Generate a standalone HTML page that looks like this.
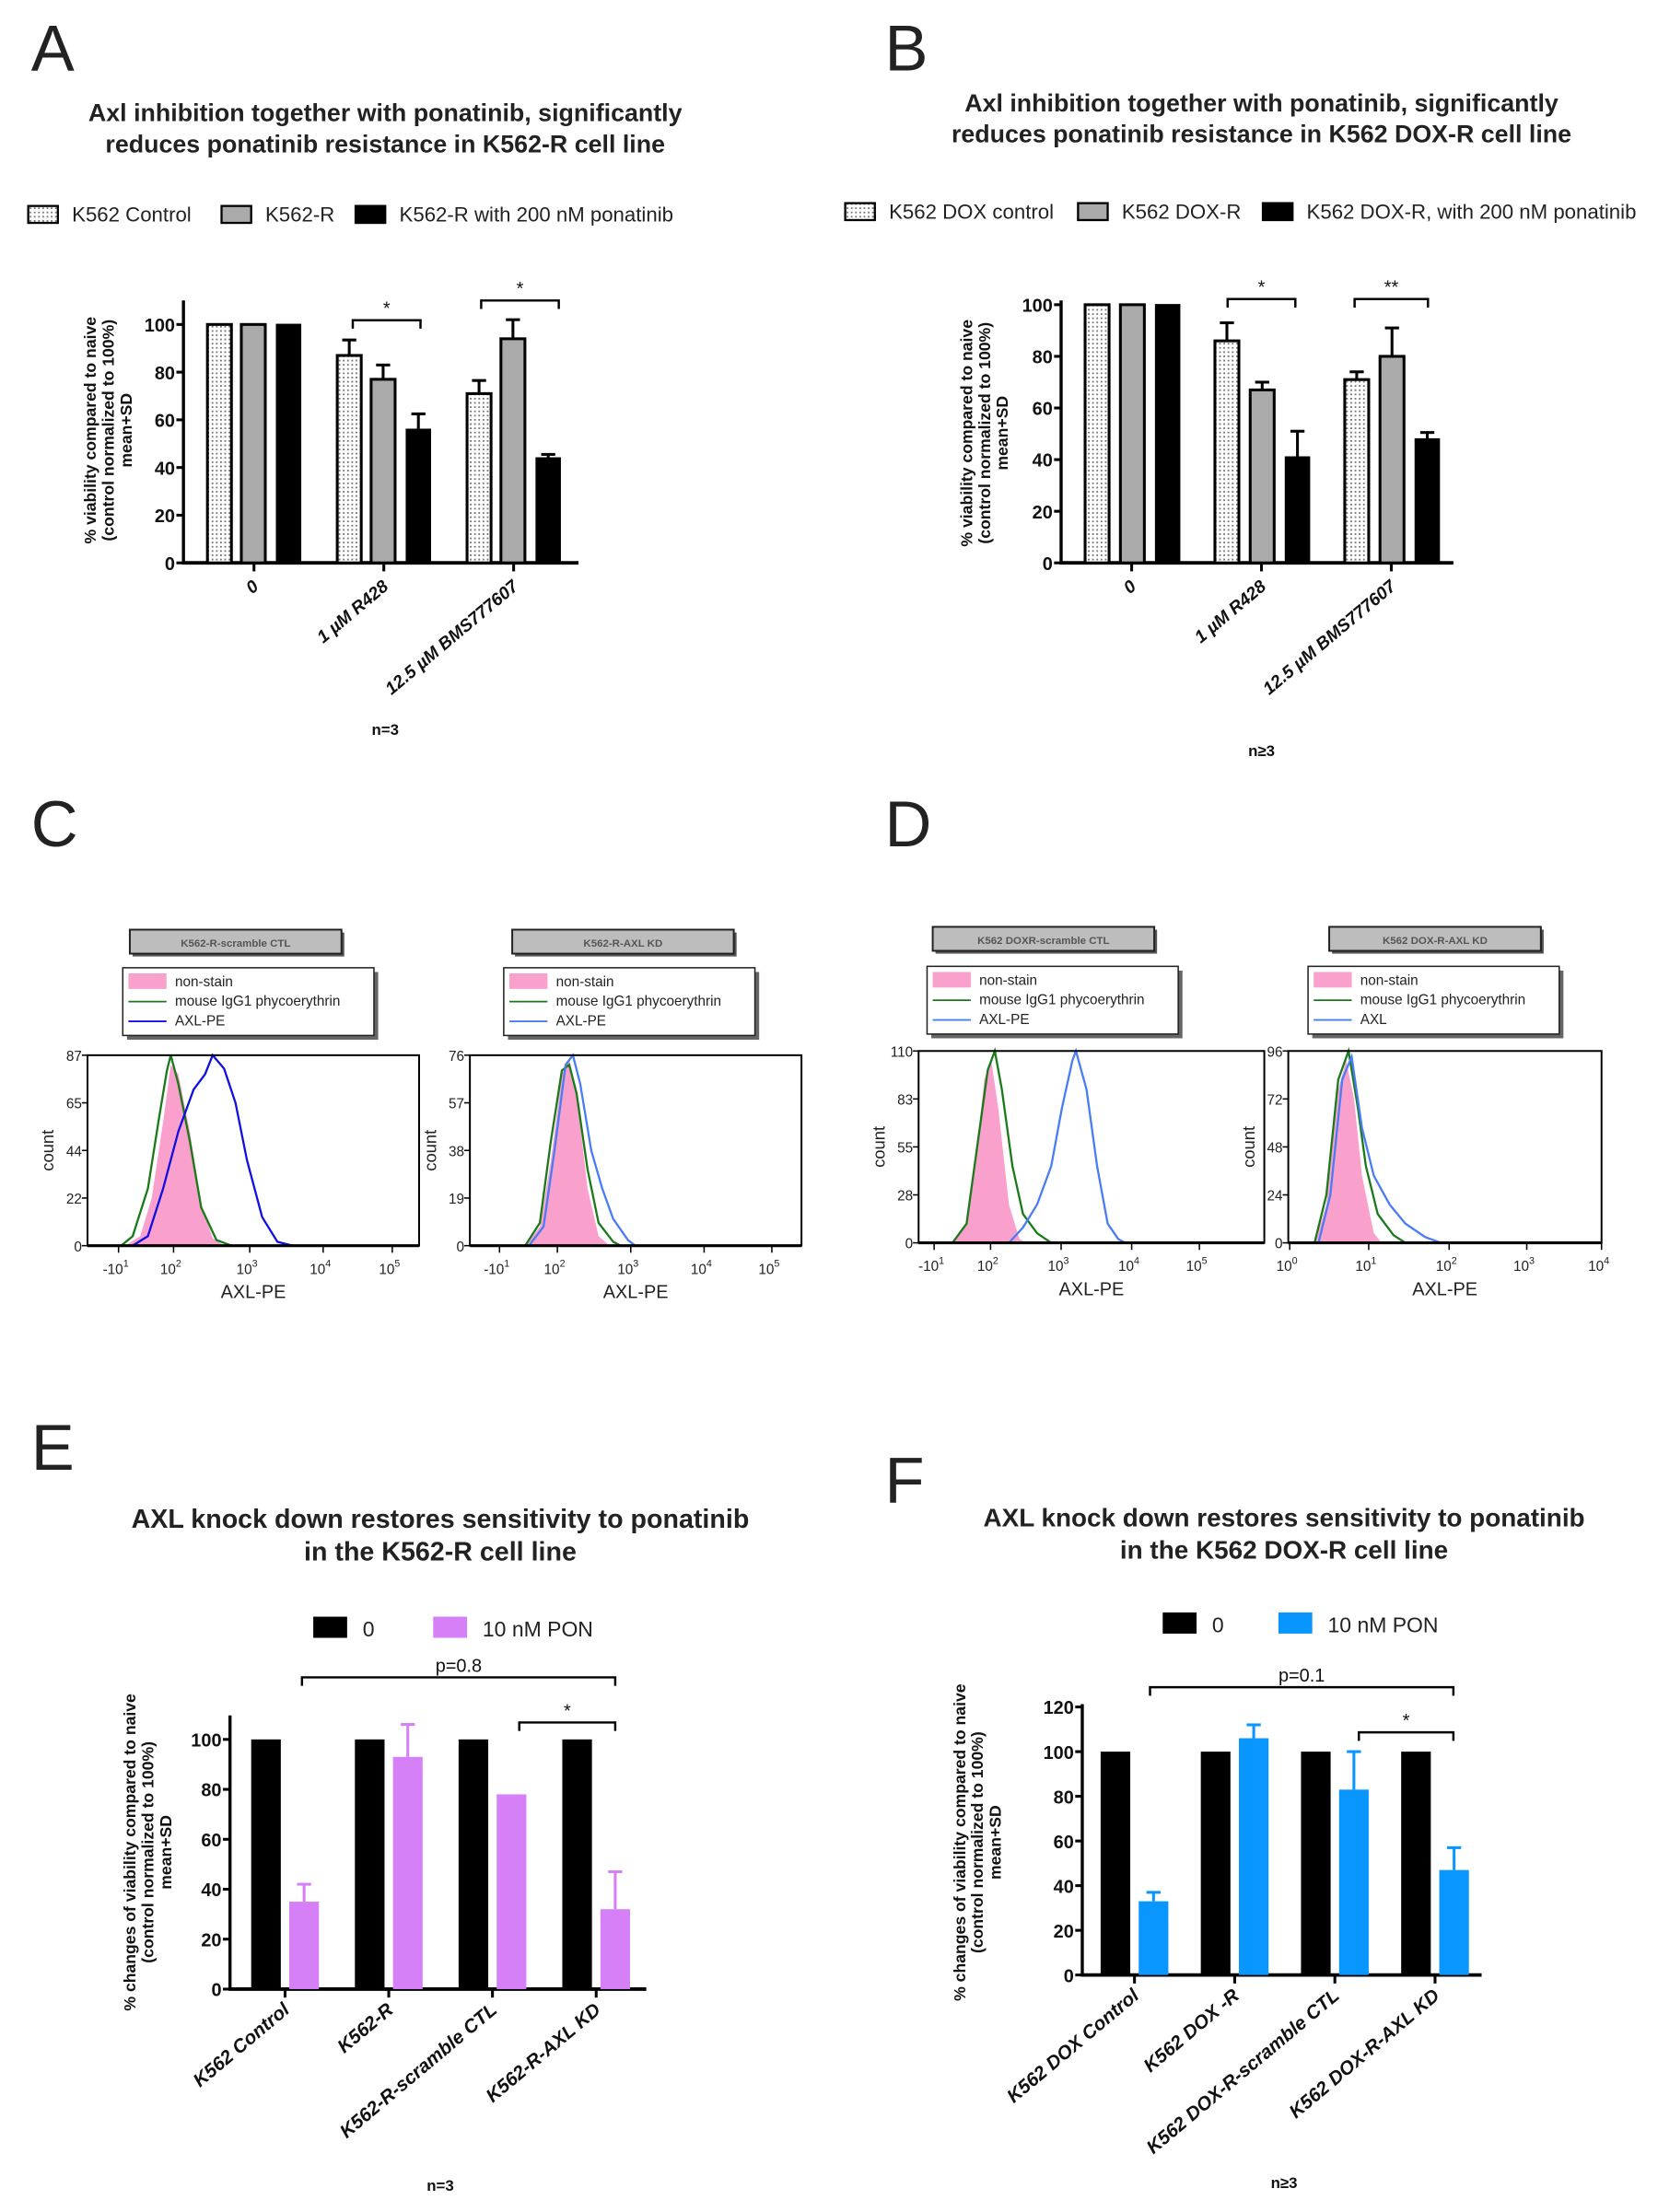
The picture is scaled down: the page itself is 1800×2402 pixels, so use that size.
<!DOCTYPE html>
<html><head><meta charset="utf-8">
<style>
html,body{margin:0;padding:0;background:#fff;}
svg{display:block;font-family:"Liberation Sans",sans-serif;}
</style></head>
<body>
<svg id="fig" width="1800" height="2402" viewBox="0 0 1175 1568" xmlns="http://www.w3.org/2000/svg">
<defs>
<pattern id="dots" width="3" height="3" patternUnits="userSpaceOnUse">
<rect width="3" height="3" fill="#fff"/><rect x="0" y="0" width="1.2" height="1.2" fill="#777"/>
</pattern>
</defs>
</svg>
<script>
// ---------- DATA ----------
const aGroups = ["0","1 µM R428","12.5 µM BMS777607"];
const aControl = [100,87,71];
const aControlErr = [0,6.5,5.5];
const aResist = [100,77,94];
const aResistErr = [0,6,8];
const aPon = [100,56,44];
const aPonErr = [0,6.5,1.5];
const aTicks = [0,20,40,60,80,100];

const bGroups = ["0","1 µM R428","12.5 µM BMS777607"];
const bControl = [100,86,71];
const bControlErr = [0,7,3];
const bResist = [100,67,80];
const bResistErr = [0,3,11];
const bPon = [100,41,48];
const bPonErr = [0,10,2.5];
const bTicks = [0,20,40,60,80,100];

const eCats = ["K562 Control","K562-R","K562-R-scramble CTL","K562-R-AXL KD"];
const eZero = [100,100,100,100];
const ePon = [35,93,78,32];
const ePonErr = [7,13,0,15];
const eTicks = [0,20,40,60,80,100];

const fCats = ["K562 DOX Control","K562 DOX -R","K562 DOX-R-scramble CTL","K562 DOX-R-AXL KD"];
const fZero = [100,100,100,100];
const fPon = [33,106,83,47];
const fPonErr = [4,6,17,10];
const fTicks = [0,20,40,60,80,100,120];

// flow histograms: [decade, fraction of max]
const c1Pink = [[1.4,0],[1.6,0.05],[1.75,0.25],[1.9,0.65],[2.0,0.95],[2.1,0.9],[2.25,0.6],[2.4,0.22],[2.55,0.04],[2.7,0]];
const c1Green = [[1.35,0],[1.5,0.05],[1.7,0.3],[1.85,0.68],[1.95,0.92],[2.0,1.0],[2.1,0.85],[2.25,0.55],[2.4,0.2],[2.6,0.03],[2.8,0]];
const c1Blue = [[1.5,0],[1.7,0.05],[1.9,0.3],[2.1,0.6],[2.3,0.82],[2.45,0.9],[2.55,1.0],[2.7,0.93],[2.85,0.75],[3.0,0.45],[3.2,0.15],[3.4,0.02],[3.6,0]];
const c2Pink = [[1.6,0],[1.8,0.1],[1.95,0.45],[2.1,0.9],[2.2,0.98],[2.3,0.8],[2.45,0.3],[2.6,0.05],[2.75,0]];
const c2Green = [[1.6,0],[1.8,0.12],[1.95,0.55],[2.1,0.92],[2.2,0.95],[2.3,0.8],[2.45,0.4],[2.6,0.12],[2.8,0.02],[2.9,0]];
const c2Blue = [[1.65,0],[1.85,0.1],[2.0,0.5],[2.15,0.95],[2.25,1.0],[2.35,0.85],[2.5,0.5],[2.65,0.3],[2.8,0.14],[3.0,0.03],[3.1,0]];
const d1Pink = [[1.5,0],[1.7,0.1],[1.85,0.5],[1.95,0.85],[2.05,0.95],[2.15,0.7],[2.3,0.2],[2.45,0.02],[2.55,0]];
const d1Green = [[1.5,0],[1.7,0.1],[1.85,0.5],[2.0,0.9],[2.1,1.0],[2.2,0.8],[2.35,0.4],[2.5,0.15],[2.7,0.05],[2.9,0]];
const d1Blue = [[2.3,0],[2.5,0.08],[2.7,0.2],[2.9,0.4],[3.05,0.7],[3.2,0.95],[3.25,1.0],[3.4,0.8],[3.55,0.4],[3.7,0.1],[3.85,0.02],[3.95,0]];
const d2Pink = [[0.35,0],[0.5,0.2],[0.65,0.8],[0.75,0.95],[0.85,0.75],[0.95,0.35],[1.1,0.05],[1.2,0]];
const d2Green = [[0.35,0],[0.5,0.25],[0.65,0.85],[0.78,1.0],[0.9,0.7],[1.0,0.4],[1.15,0.15],[1.35,0.04],[1.5,0]];
const d2Blue = [[0.4,0],[0.55,0.25],[0.7,0.85],[0.82,0.97],[0.95,0.6],[1.1,0.35],[1.3,0.2],[1.5,0.1],[1.75,0.03],[1.95,0]];

// ---------- HELPERS ----------
const NS="http://www.w3.org/2000/svg";
const svg=document.getElementById('fig');
function mk(tag, attrs, parent){const e=document.createElementNS(NS,tag);for(const k in attrs)e.setAttribute(k,attrs[k]);(parent||svg).appendChild(e);return e;}
function txt(s, x, y, attrs, parent){const e=mk('text',Object.assign({x:x,y:y},attrs||{}),parent);e.textContent=s;return e;}
function grp(name){const g=mk('g',{});return g;}

// panel letters
[["A",22,50],["B",627,50],["C",22,600],["D",627,600],["E",22,1042],["F",627,1065]].forEach(p=>{
  const t=txt(p[0],p[1],p[2],{'font-size':46,'fill':'#222'});
  
  
});

// titles
function title(lines,cx,y,name,fs){const g=grp(name);lines.forEach((l,i)=>txt(l,cx,y+i*(fs+4.5),{'font-size':fs,'font-weight':'bold','text-anchor':'middle','fill':'#222'},g));}
title(["Axl inhibition together with ponatinib, significantly","reduces ponatinib resistance in K562-R cell line"],273,86,'title-a',17.5);
title(["Axl inhibition together with ponatinib, significantly","reduces ponatinib resistance in K562 DOX-R cell line"],894,79,'title-b',17.5);
title(["AXL knock down restores sensitivity to ponatinib","in the K562-R cell line"],312,1083,'title-e',18.7);
title(["AXL knock down restores sensitivity to ponatinib","in the K562 DOX-R cell line"],910,1082,'title-f',18.2);

// legends A/B
function legendItem(parent,x,y,fill,label,name){
  const g=grp(name);parent.appendChild(g);
  mk('rect',{x:x,y:y-11,width:21,height:12,fill:fill,stroke:'#000','stroke-width':1.5},g);
  txt(label,x+31,y,{'font-size':14.5,'fill':'#222'},g);
}
const la=grp('legend-a');
legendItem(la,20,157,'url(#dots)','K562 Control','legend-entry-k562-control');
legendItem(la,157,157,'#aaa','K562-R','legend-entry-k562-r');
legendItem(la,252,157,'#000','K562-R with 200 nM ponatinib','legend-entry-k562-r-ponatinib');
const lb=grp('legend-b');
legendItem(lb,599,155,'url(#dots)','K562 DOX control','legend-entry-dox-control');
legendItem(lb,764,155,'#aaa','K562 DOX-R','legend-entry-dox-r');
legendItem(lb,895,155,'#000','K562 DOX-R, with 200 nM ponatinib','legend-entry-dox-r-ponatinib');

// ---------- BAR CHART ----------
function barChart(cfg){
  const g=grp(cfg.name);
  const y=v=>cfg.y0-(v-0)*(cfg.y0-cfg.yTop)/cfg.vTop;
  const ax=mk('line',{x1:cfg.x0,y1:cfg.y0+1,x2:cfg.x0,y2:cfg.axTop,stroke:'#000','stroke-width':2.2},g);
  
  cfg.ticks.forEach(t=>{
    mk('line',{x1:cfg.x0-5,y1:y(t),x2:cfg.x0,y2:y(t),stroke:'#000','stroke-width':2},g);
    const tl=txt(String(t),cfg.x0-6,y(t)+5,{'font-size':13,'font-weight':'bold','text-anchor':'end','fill':'#111'},g);
    
  });
  const xa=mk('line',{x1:cfg.x0-1,y1:cfg.y0,x2:cfg.xEnd,y2:cfg.y0,stroke:'#000','stroke-width':2.5},g);
  
  cfg.cats.forEach((c,i)=>{
    const cx=cfg.gx0+i*cfg.gStep;
    mk('line',{x1:cfg.tickX(cx),y1:cfg.y0,x2:cfg.tickX(cx),y2:cfg.y0+6,stroke:'#000','stroke-width':2},g);
    cfg.series.forEach((s,j)=>{
      const bx=cx+cfg.offsets[j];
      const v=s.vals[i];
      const r=mk('rect',{x:bx,y:y(v),width:cfg.bw,height:cfg.y0-y(v),fill:s.fill,stroke:s.stroke,'stroke-width':s.sw},g);
      
      if(s.err && s.err[i]>0){
        const ec=s.errColor||'#000';
        mk('line',{x1:bx+cfg.bw/2,y1:y(v),x2:bx+cfg.bw/2,y2:y(v+s.err[i]),stroke:ec,'stroke-width':2},g);
        mk('line',{x1:bx+cfg.bw/2-5,y1:y(v+s.err[i]),x2:bx+cfg.bw/2+5,y2:y(v+s.err[i]),stroke:ec,'stroke-width':2},g);
      }
    });
    const lx=cfg.tickX(cx)+4, ly=cfg.y0+cfg.labDy;
    const tl=txt(c,lx,ly,{'font-size':cfg.labSize,'font-weight':'bold','font-style':'italic','text-anchor':'end','fill':'#111',transform:`rotate(-40 ${lx} ${ly})`},g);
    
  });
  const yt=txt('',0,0,{'font-size':cfg.ytSize,'font-weight':'bold','text-anchor':'middle','fill':'#111',transform:`translate(${cfg.ytx} ${cfg.yty}) rotate(-90)`},g);
  cfg.ytLines.forEach((l,i)=>{const ts=mk('tspan',{x:0,dy:i===0?0:cfg.ytSize*1.1},yt);ts.textContent=l;});
  
  cfg.brackets.forEach(b=>{
    const bg=grp('significance-bracket');g.appendChild(bg);
    mk('path',{d:`M${b[0]} ${b[2]+6}V${b[2]}H${b[1]}V${b[2]+6}`,fill:'none',stroke:'#000','stroke-width':1.6},bg);
    txt(b[3],(b[0]+b[1])/2,b[2]-4,{'font-size':b[4]||13,'text-anchor':'middle','fill':'#111'},bg);
  });
  const n=txt(cfg.nText,cfg.nx,cfg.ny,{'font-size':11,'font-weight':'bold','text-anchor':'middle','fill':'#111'},g);
  
}

barChart({name:'chart-a',x0:130,y0:399,yTop:230,vTop:100,axTop:213,xEnd:410,ticks:aTicks,cats:aGroups,
  gx0:147,gStep:92,offsets:[0,24,49],bw:17,tickX:cx=>cx+33,labDy:18,labSize:12.5,
  series:[{key:'control',vals:aControl,err:aControlErr,fill:'url(#dots)',stroke:'#000',sw:2},
          {key:'resistant',vals:aResist,err:aResistErr,fill:'#aaa',stroke:'#000',sw:2},
          {key:'ponatinib',vals:aPon,err:aPonErr,fill:'#000',stroke:'#000',sw:1}],
  ytLines:['% viability compared to naive','(control normalized to 100%)','mean+SD'],ytSize:11.5,ytx:68,yty:305,
  brackets:[[250,298,227,'*'],[341,396,213,'*']],nText:'n=3',nx:273,ny:521});
barChart({name:'chart-b',x0:752,y0:399,yTop:216,vTop:100,axTop:213,xEnd:1030,ticks:bTicks,cats:bGroups,
  gx0:769,gStep:92,offsets:[0,25,50],bw:17,tickX:cx=>cx+33,labDy:18,labSize:12.5,
  series:[{key:'dox-control',vals:bControl,err:bControlErr,fill:'url(#dots)',stroke:'#000',sw:2},
          {key:'dox-resistant',vals:bResist,err:bResistErr,fill:'#aaa',stroke:'#000',sw:2},
          {key:'dox-ponatinib',vals:bPon,err:bPonErr,fill:'#000',stroke:'#000',sw:1}],
  ytLines:['% viability compared to naive','(control normalized to 100%)','mean+SD'],ytSize:11.5,ytx:689,yty:307,
  brackets:[[870,918,212,'*'],[960,1012,212,'**']],nText:'n≥3',nx:894,ny:536});
barChart({name:'chart-e',x0:163,y0:1410,yTop:1233,vTop:100,axTop:1216,xEnd:458,ticks:eTicks,cats:eCats,
  gx0:178,gStep:73.5,offsets:[0,27],bw:21,tickX:cx=>cx+24,labDy:16,labSize:13.5,
  series:[{key:'untreated',vals:eZero,err:null,fill:'#000',stroke:'#000',sw:0},
          {key:'pon',vals:ePon,err:ePonErr,fill:'#d680f8',stroke:'none',sw:0,errColor:'#d680f8'}],
  ytLines:['% changes of viability compared to naive','(control normalized to 100%)','mean+SD'],ytSize:11.5,ytx:96,yty:1313,
  brackets:[[214,436,1189,'p=0.8',13],[368,436,1221,'*']],nText:'n=3',nx:312,ny:1553});
barChart({name:'chart-f',x0:767,y0:1400,yTop:1210,vTop:120,axTop:1208,xEnd:1050,ticks:fTicks,cats:fCats,
  gx0:780,gStep:71,offsets:[0,27],bw:21,tickX:cx=>cx+24,labDy:16,labSize:13.5,
  series:[{key:'untreated',vals:fZero,err:null,fill:'#000',stroke:'#000',sw:0},
          {key:'pon',vals:fPon,err:fPonErr,fill:'#0a96ff',stroke:'none',sw:0,errColor:'#0a96ff'}],
  ytLines:['% changes of viability compared to naive','(control normalized to 100%)','mean+SD'],ytSize:11.5,ytx:684,yty:1306,
  brackets:[[815,1030,1196,'p=0.1',13],[963,1030,1228,'*']],nText:'n≥3',nx:910,ny:1551});

// legends E/F
function sqLegend(x,y,fill,label,name){
  const g=grp(name);
  mk('rect',{x:x,y:y-8,width:24,height:15,fill:fill},g);
  txt(label,x+35,y+6,{'font-size':15,'fill':'#222'},g);
}
sqLegend(222,1154,'#000','0','legend-entry-e-0');
sqLegend(307,1154,'#d680f8','10 nM PON','legend-entry-e-pon');
sqLegend(824,1151,'#000','0','legend-entry-f-0');
sqLegend(906,1151,'#0a96ff','10 nM PON','legend-entry-f-pon');

// ---------- FLOW HISTOGRAMS ----------
function flow(cfg){
  const g=grp(cfg.name);
  const xs=d=>cfg.a+d*cfg.s;
  const ys=f=>cfg.y1-f*(cfg.y1-cfg.y0);
  mk('rect',{x:cfg.tx+2,y:cfg.ty+2,width:cfg.tw,height:17,fill:'#555'},g);
  mk('rect',{x:cfg.tx,y:cfg.ty,width:cfg.tw,height:17,fill:'#bdbdbd',stroke:'#222','stroke-width':1.3},g);
  txt(cfg.title,cfg.tx+cfg.tw/2,cfg.ty+12,{'font-size':7.5,'font-weight':'bold','text-anchor':'middle','fill':'#555'},g);
  const lg=grp('flow-legend');g.appendChild(lg);
  mk('rect',{x:cfg.lx+3,y:cfg.ly+3,width:cfg.lw,height:48,fill:'#666'},lg);
  mk('rect',{x:cfg.lx,y:cfg.ly,width:cfg.lw,height:48,fill:'#fff',stroke:'#222','stroke-width':1},lg);
  mk('rect',{x:cfg.lx+4,y:cfg.ly+4,width:27,height:11,fill:'#f9a0cc'},lg);
  mk('line',{x1:cfg.lx+4,y1:cfg.ly+24,x2:cfg.lx+31,y2:cfg.ly+24,stroke:'#1a7a1a','stroke-width':1.2},lg);
  mk('line',{x1:cfg.lx+4,y1:cfg.ly+38,x2:cfg.lx+31,y2:cfg.ly+38,stroke:cfg.blue,'stroke-width':1.2},lg);
  txt('non-stain',cfg.lx+37,cfg.ly+13,{'font-size':10,'fill':'#222'},lg);
  txt('mouse IgG1 phycoerythrin',cfg.lx+37,cfg.ly+27,{'font-size':10,'fill':'#222'},lg);
  txt(cfg.blueLabel,cfg.lx+37,cfg.ly+41,{'font-size':10,'fill':'#222'},lg);
  const pts=arr=>arr.map(p=>`${xs(p[0]).toFixed(1)},${ys(p[1]).toFixed(1)}`).join(' ');
  const pk=mk('polygon',{points:`${xs(cfg.pink[0][0])},${cfg.y1} `+pts(cfg.pink)+` ${xs(cfg.pink[cfg.pink.length-1][0])},${cfg.y1}`,fill:'#f9a0cc'},g);
  
  const gr=mk('polyline',{points:pts(cfg.green),fill:'none',stroke:'#1a7a1a','stroke-width':1.5},g);
  
  const bl=mk('polyline',{points:pts(cfg.blueC),fill:'none',stroke:cfg.blue,'stroke-width':1.5},g);
  
  mk('rect',{x:cfg.x0,y:cfg.y0,width:cfg.x1-cfg.x0,height:cfg.y1-cfg.y0,fill:'none',stroke:'#000','stroke-width':1.3},g);
  mk('line',{x1:cfg.x0,y1:cfg.y1,x2:cfg.x1,y2:cfg.y1,stroke:'#000','stroke-width':2},g);
  cfg.yt.forEach((t,i)=>{
    const yy=cfg.y1-i*(cfg.y1-cfg.y0)/(cfg.yt.length-1);
    mk('line',{x1:cfg.x0-4,y1:yy,x2:cfg.x0,y2:yy,stroke:'#000','stroke-width':1},g);
    txt(t,cfg.x0-4,yy+4,{'font-size':10,'text-anchor':'end','fill':'#222'},g);
  });
  cfg.xl.forEach(l=>{
    const t=txt(l[0],l[1],cfg.y1+20,{'font-size':10,'text-anchor':'middle','fill':'#222'},g);
    const sp=mk('tspan',{dy:-5,'font-size':7},t);sp.textContent=l[2];
    mk('line',{x1:l[1]+2,y1:cfg.y1,x2:l[1]+2,y2:cfg.y1+5,stroke:'#000','stroke-width':1},g);
  });
  txt('AXL-PE',(cfg.x0+cfg.x1)/2,cfg.y1+37,{'font-size':13,'text-anchor':'middle','fill':'#222'},g);
  txt('count',0,0,{'font-size':12,'text-anchor':'middle','fill':'#222',transform:`translate(${cfg.x0-24} ${(cfg.y0+cfg.y1)/2}) rotate(-90)`},g);
}
flow({name:'flow-c-scramble',x0:62,x1:297,y0:748,y1:883,a:13,s:54,tx:92,ty:659,tw:150,lx:87,ly:686,lw:178,
  title:'K562-R-scramble CTL',blue:'#1010e0',blueLabel:'AXL-PE',pink:c1Pink,green:c1Green,blueC:c1Blue,
  yt:['0','22','44','65','87'],xl:[['-10',82,'1'],['10',121,'2'],['10',175,'3'],['10',227,'4'],['10',276,'5']]});
flow({name:'flow-c-axl-kd',x0:333,x1:568,y0:748,y1:883,a:289,s:52,tx:363,ty:659,tw:157,lx:357,ly:686,lw:178,
  title:'K562-R-AXL KD',blue:'#4a7cf5',blueLabel:'AXL-PE',pink:c2Pink,green:c2Green,blueC:c2Blue,
  yt:['0','19','38','57','76'],xl:[['-10',352,'1'],['10',393,'2'],['10',445,'3'],['10',497,'4'],['10',545,'5']]});
flow({name:'flow-d-scramble',x0:651,x1:896,y0:745,y1:881,a:600,s:50,tx:661,ty:657,tw:157,lx:657,ly:685,lw:178,
  title:'K562 DOXR-scramble CTL',blue:'#4a7cf5',blueLabel:'AXL-PE',pink:d1Pink,green:d1Green,blueC:d1Blue,
  yt:['0','28','55','83','110'],xl:[['-10',660,'1'],['10',700,'2'],['10',750,'3'],['10',800,'4'],['10',848,'5']]});
flow({name:'flow-d-axl-kd',x0:913,x1:1135,y0:745,y1:881,a:912,s:56,tx:942,ty:657,tw:150,lx:927,ly:685,lw:178,
  title:'K562 DOX-R-AXL KD',blue:'#4a7cf5',blueLabel:'AXL',pink:d2Pink,green:d2Green,blueC:d2Blue,
  yt:['0','24','48','72','96'],xl:[['10',912,'0'],['10',968,'1'],['10',1025,'2'],['10',1080,'3'],['10',1133,'4']]});
</script>
</body></html>
